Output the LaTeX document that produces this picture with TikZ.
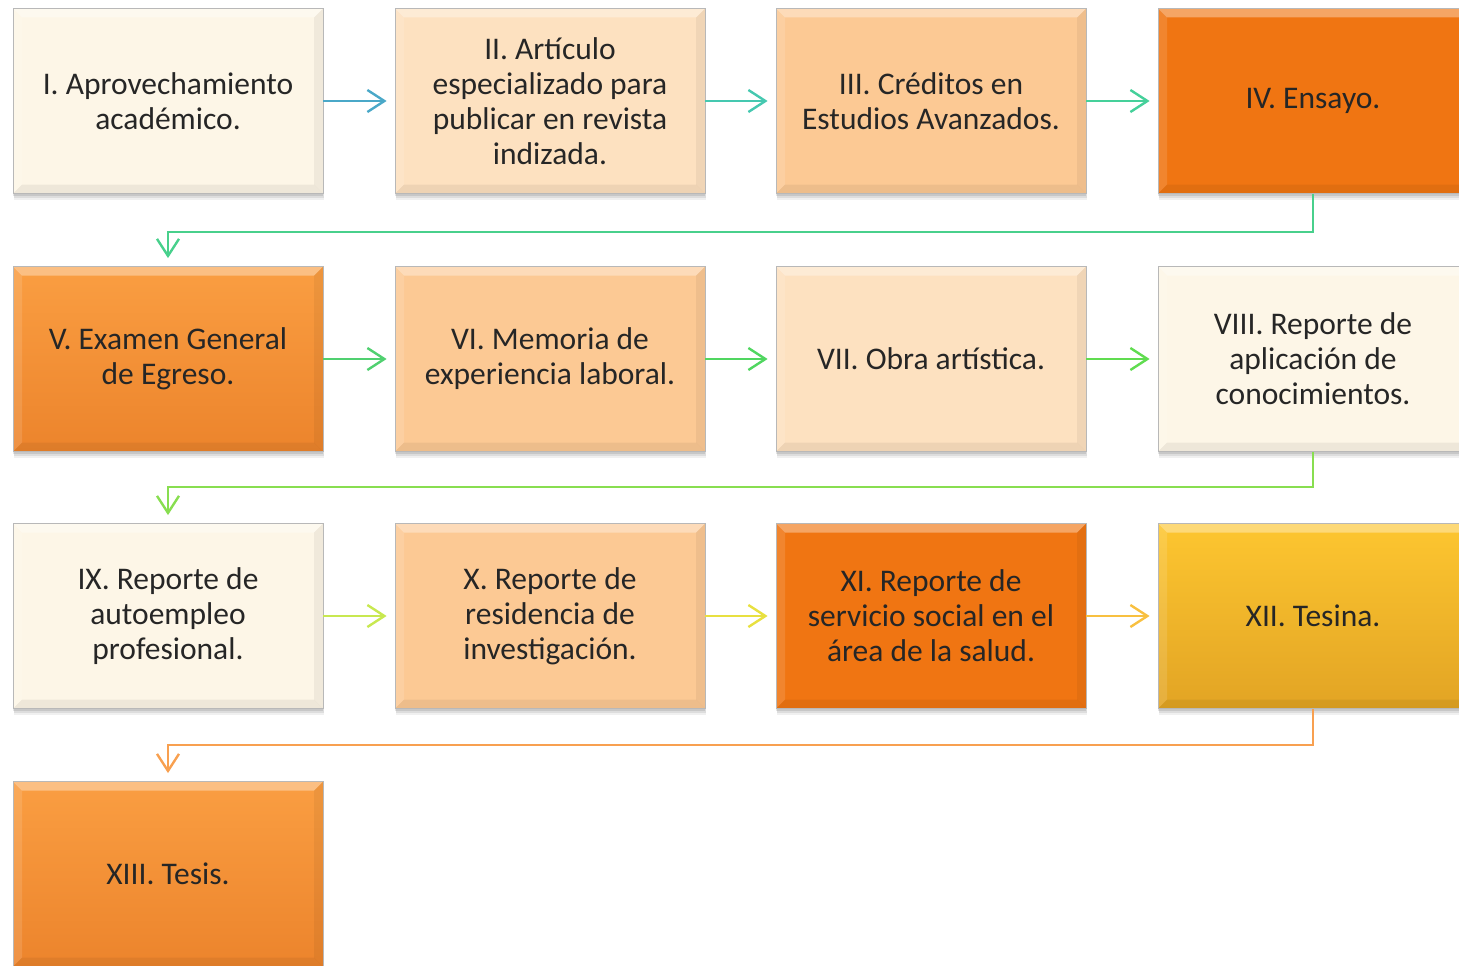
\documentclass[tikz,border=0pt]{standalone}
\usepackage{fontspec}
\setmainfont{Carlito}
\usetikzlibrary{arrows.meta,shadows}
\definecolor{cCream}{RGB}{253,246,231}
\definecolor{cPeachL}{RGB}{253,225,192}
\definecolor{cPeach}{RGB}{252,201,148}
\definecolor{cDark}{RGB}{240,117,18}
\definecolor{cMidT}{RGB}{250,158,66}
\definecolor{cMidB}{RGB}{236,132,44}
\definecolor{cGoldT}{RGB}{253,198,48}
\definecolor{cGoldB}{RGB}{226,164,36}
\definecolor{cTxt}{RGB}{38,38,38}
\definecolor{a1}{RGB}{74,168,200}
\definecolor{a2}{RGB}{69,200,176}
\definecolor{a3}{RGB}{69,208,154}
\definecolor{a4}{RGB}{72,208,140}
\definecolor{a5}{RGB}{80,208,112}
\definecolor{a6}{RGB}{80,214,96}
\definecolor{a7}{RGB}{96,220,80}
\definecolor{a8}{RGB}{136,222,80}
\definecolor{a9}{RGB}{200,232,80}
\definecolor{a10}{RGB}{232,224,64}
\definecolor{a11}{RGB}{248,192,64}
\definecolor{a12}{RGB}{248,160,80}
\tikzset{
  box/.style={rectangle, minimum width=310pt, minimum height=185pt, inner sep=0pt,
    draw=black!28, line width=0.8pt, text=cTxt, align=center,
    font=\fontsize{31.5}{35}\selectfont,
    drop shadow={shadow xshift=0pt, shadow yshift=-2pt, opacity=0.10, fill=black},
    drop shadow={shadow xshift=1pt, shadow yshift=-4pt, opacity=0.08, fill=black},
    drop shadow={shadow xshift=1pt, shadow yshift=-6pt, opacity=0.06, fill=black},
    path picture={
      \fill[white,opacity=.35] (path picture bounding box.north west) -- (path picture bounding box.north east) -- ([shift={(-9pt,-9pt)}]path picture bounding box.north east) -- ([shift={(9pt,-9pt)}]path picture bounding box.north west) -- cycle;
      \fill[white,opacity=.12] (path picture bounding box.north west) -- (path picture bounding box.south west) -- ([shift={(9pt,9pt)}]path picture bounding box.south west) -- ([shift={(9pt,-9pt)}]path picture bounding box.north west) -- cycle;
      \fill[black,opacity=.06] (path picture bounding box.south west) -- (path picture bounding box.south east) -- ([shift={(-9pt,9pt)}]path picture bounding box.south east) -- ([shift={(9pt,9pt)}]path picture bounding box.south west) -- cycle;
      \fill[black,opacity=.05] (path picture bounding box.north east) -- (path picture bounding box.south east) -- ([shift={(-9pt,9pt)}]path picture bounding box.south east) -- ([shift={(-9pt,-9pt)}]path picture bounding box.north east) -- cycle;
    }},
  arr/.style={line width=2.4pt, shorten >=8pt, -{Straight Barb[length=17pt,width=22pt,line width=2.4pt]}},
}
\begin{document}
\begin{tikzpicture}[x=1pt,y=-1pt]
\useasboundingbox (0,0) rectangle (1459,966);
% row 1
\node[box, fill=cCream]  (n1) at (168,101) {I. Aprovechamiento\\académico.};
\node[box, fill=cPeachL] (n2) at (550,101) {II. Artículo\\especializado para\\publicar en revista\\indizada.};
\node[box, fill=cPeach]  (n3) at (931,101) {III. Créditos en\\Estudios Avanzados.};
\node[box, fill=cDark]   (n4) at (1313,101) {IV. Ensayo.};
% row 2
\node[box, top color=cMidT, bottom color=cMidB] (n5) at (168,359) {V. Examen General\\de Egreso.};
\node[box, fill=cPeach]  (n6) at (550,359) {VI. Memoria de\\experiencia laboral.};
\node[box, fill=cPeachL] (n7) at (931,359) {VII. Obra artística.};
\node[box, fill=cCream]  (n8) at (1313,359) {VIII. Reporte de\\aplicación de\\conocimientos.};
% row 3
\node[box, fill=cCream]  (n9) at (168,616) {IX. Reporte de\\autoempleo\\profesional.};
\node[box, fill=cPeach]  (n10) at (550,616) {X. Reporte de\\residencia de\\investigación.};
\node[box, fill=cDark]   (n11) at (931,616) {XI. Reporte de\\servicio social en el\\área de la salud.};
\node[box, top color=cGoldT, bottom color=cGoldB] (n12) at (1313,616) {XII. Tesina.};
% row 4
\node[box, top color=cMidT, bottom color=cMidB] (n13) at (168,874) {XIII. Tesis.};
% connectors
\draw[arr, a1] (n1.east) -- (n2.west);
\draw[arr, a2] (n2.east) -- (n3.west);
\draw[arr, a3] (n3.east) -- (n4.west);
\draw[arr, a4] (n4.south) -- ++(0,38) -| (n5.north);
\draw[arr, a5] (n5.east) -- (n6.west);
\draw[arr, a6] (n6.east) -- (n7.west);
\draw[arr, a7] (n7.east) -- (n8.west);
\draw[arr, a8] (n8.south) -- ++(0,35) -| (n9.north);
\draw[arr, a9] (n9.east) -- (n10.west);
\draw[arr, a10] (n10.east) -- (n11.west);
\draw[arr, a11] (n11.east) -- (n12.west);
\draw[arr, a12] (n12.south) -- ++(0,36) -| (n13.north);
\end{tikzpicture}
\end{document}
